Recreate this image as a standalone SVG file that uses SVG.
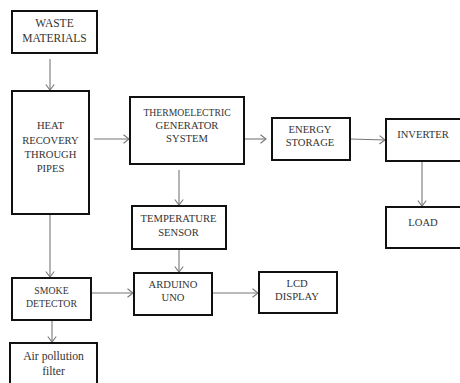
<svg xmlns="http://www.w3.org/2000/svg" width="460" height="383" viewBox="0 0 460 383">
<defs>
<style>
.box{fill:#fff;stroke:#111;stroke-width:2}
.t{font-family:'Liberation Serif','Times New Roman',Tinos,'DejaVu Serif',serif;font-size:10.6px;fill:#333;text-anchor:middle}
.c{stroke:#777;stroke-width:1.1;fill:none;marker-end:url(#ah)}
</style>
<marker id="ah" markerWidth="8" markerHeight="10" refX="6" refY="5" orient="auto" markerUnits="userSpaceOnUse">
<path d="M0.5,0.8 L6,5 L0.5,9.2" fill="none" stroke="#777" stroke-width="1.1"/>
</marker>
</defs>
<rect width="460" height="383" fill="#fff"/>
<g id="connectors">
<line class="c" x1="50" y1="59" x2="50" y2="90"/>
<line class="c" x1="94" y1="139" x2="129" y2="139"/>
<line class="c" x1="244" y1="139" x2="266" y2="139"/>
<line class="c" x1="350" y1="139" x2="385" y2="140"/>
<line class="c" x1="422" y1="161" x2="422" y2="206"/>
<line class="c" x1="179" y1="170" x2="179" y2="205"/>
<line class="c" x1="179" y1="249" x2="179" y2="272"/>
<line class="c" x1="50" y1="214" x2="50" y2="277"/>
<line class="c" x1="91" y1="293" x2="133" y2="293"/>
<line class="c" x1="212" y1="293" x2="258" y2="293"/>
<line class="c" x1="52" y1="320" x2="52" y2="342"/>
</g>
<g id="waste">
<rect class="box" x="12" y="11" width="85" height="42"/>
<text class="t" x="54.5" y="27" font-family="Liberation Serif, serif" style="font-size:11.5px">WASTE</text>
<text class="t" x="54.5" y="42" style="font-size:11.5px">MATERIALS</text>
</g>
<g id="heat">
<rect class="box" x="12" y="91" width="77" height="123"/>
<text class="t" x="50.5" y="129">HEAT</text>
<text class="t" x="50.5" y="144">RECOVERY</text>
<text class="t" x="50.5" y="158">THROUGH</text>
<text class="t" x="50.5" y="172">PIPES</text>
</g>
<g id="teg">
<rect class="box" x="130" y="97" width="114" height="67"/>
<text class="t" x="187" y="116" style="font-size:9.7px">THERMOELECTRIC</text>
<text class="t" x="187" y="129">GENERATOR</text>
<text class="t" x="187" y="142">SYSTEM</text>
</g>
<g id="energy">
<rect class="box" x="272" y="118" width="78" height="42"/>
<text class="t" x="310" y="133">ENERGY</text>
<text class="t" x="310" y="146">STORAGE</text>
</g>
<g id="inverter">
<rect class="box" x="386" y="119" width="84" height="42"/>
<text class="t" x="423" y="138">INVERTER</text>
</g>
<g id="load">
<rect class="box" x="386" y="207" width="84" height="41"/>
<text class="t" x="423" y="226">LOAD</text>
</g>
<g id="temp">
<rect class="box" x="132" y="206" width="94" height="43"/>
<text class="t" x="178.5" y="222">TEMPERATURE</text>
<text class="t" x="178.5" y="236">SENSOR</text>
</g>
<g id="arduino">
<rect class="box" x="134" y="273" width="78" height="42"/>
<text class="t" x="173" y="288">ARDUINO</text>
<text class="t" x="173" y="301">UNO</text>
</g>
<g id="lcd">
<rect class="box" x="259" y="272" width="78" height="41"/>
<text class="t" x="297" y="287">LCD</text>
<text class="t" x="297" y="300">DISPLAY</text>
</g>
<g id="smoke">
<rect class="box" x="12" y="278" width="79" height="42"/>
<text class="t" x="51.5" y="294" style="font-size:9.8px">SMOKE</text>
<text class="t" x="51.5" y="307" style="font-size:9.8px">DETECTOR</text>
</g>
<g id="filter">
<rect class="box" x="10" y="343" width="87" height="50"/>
<text class="t" x="53.5" y="360" style="font-size:11.7px">Air pollution</text>
<text class="t" x="53.5" y="375" style="font-size:11.7px">filter</text>
</g>
</svg>
